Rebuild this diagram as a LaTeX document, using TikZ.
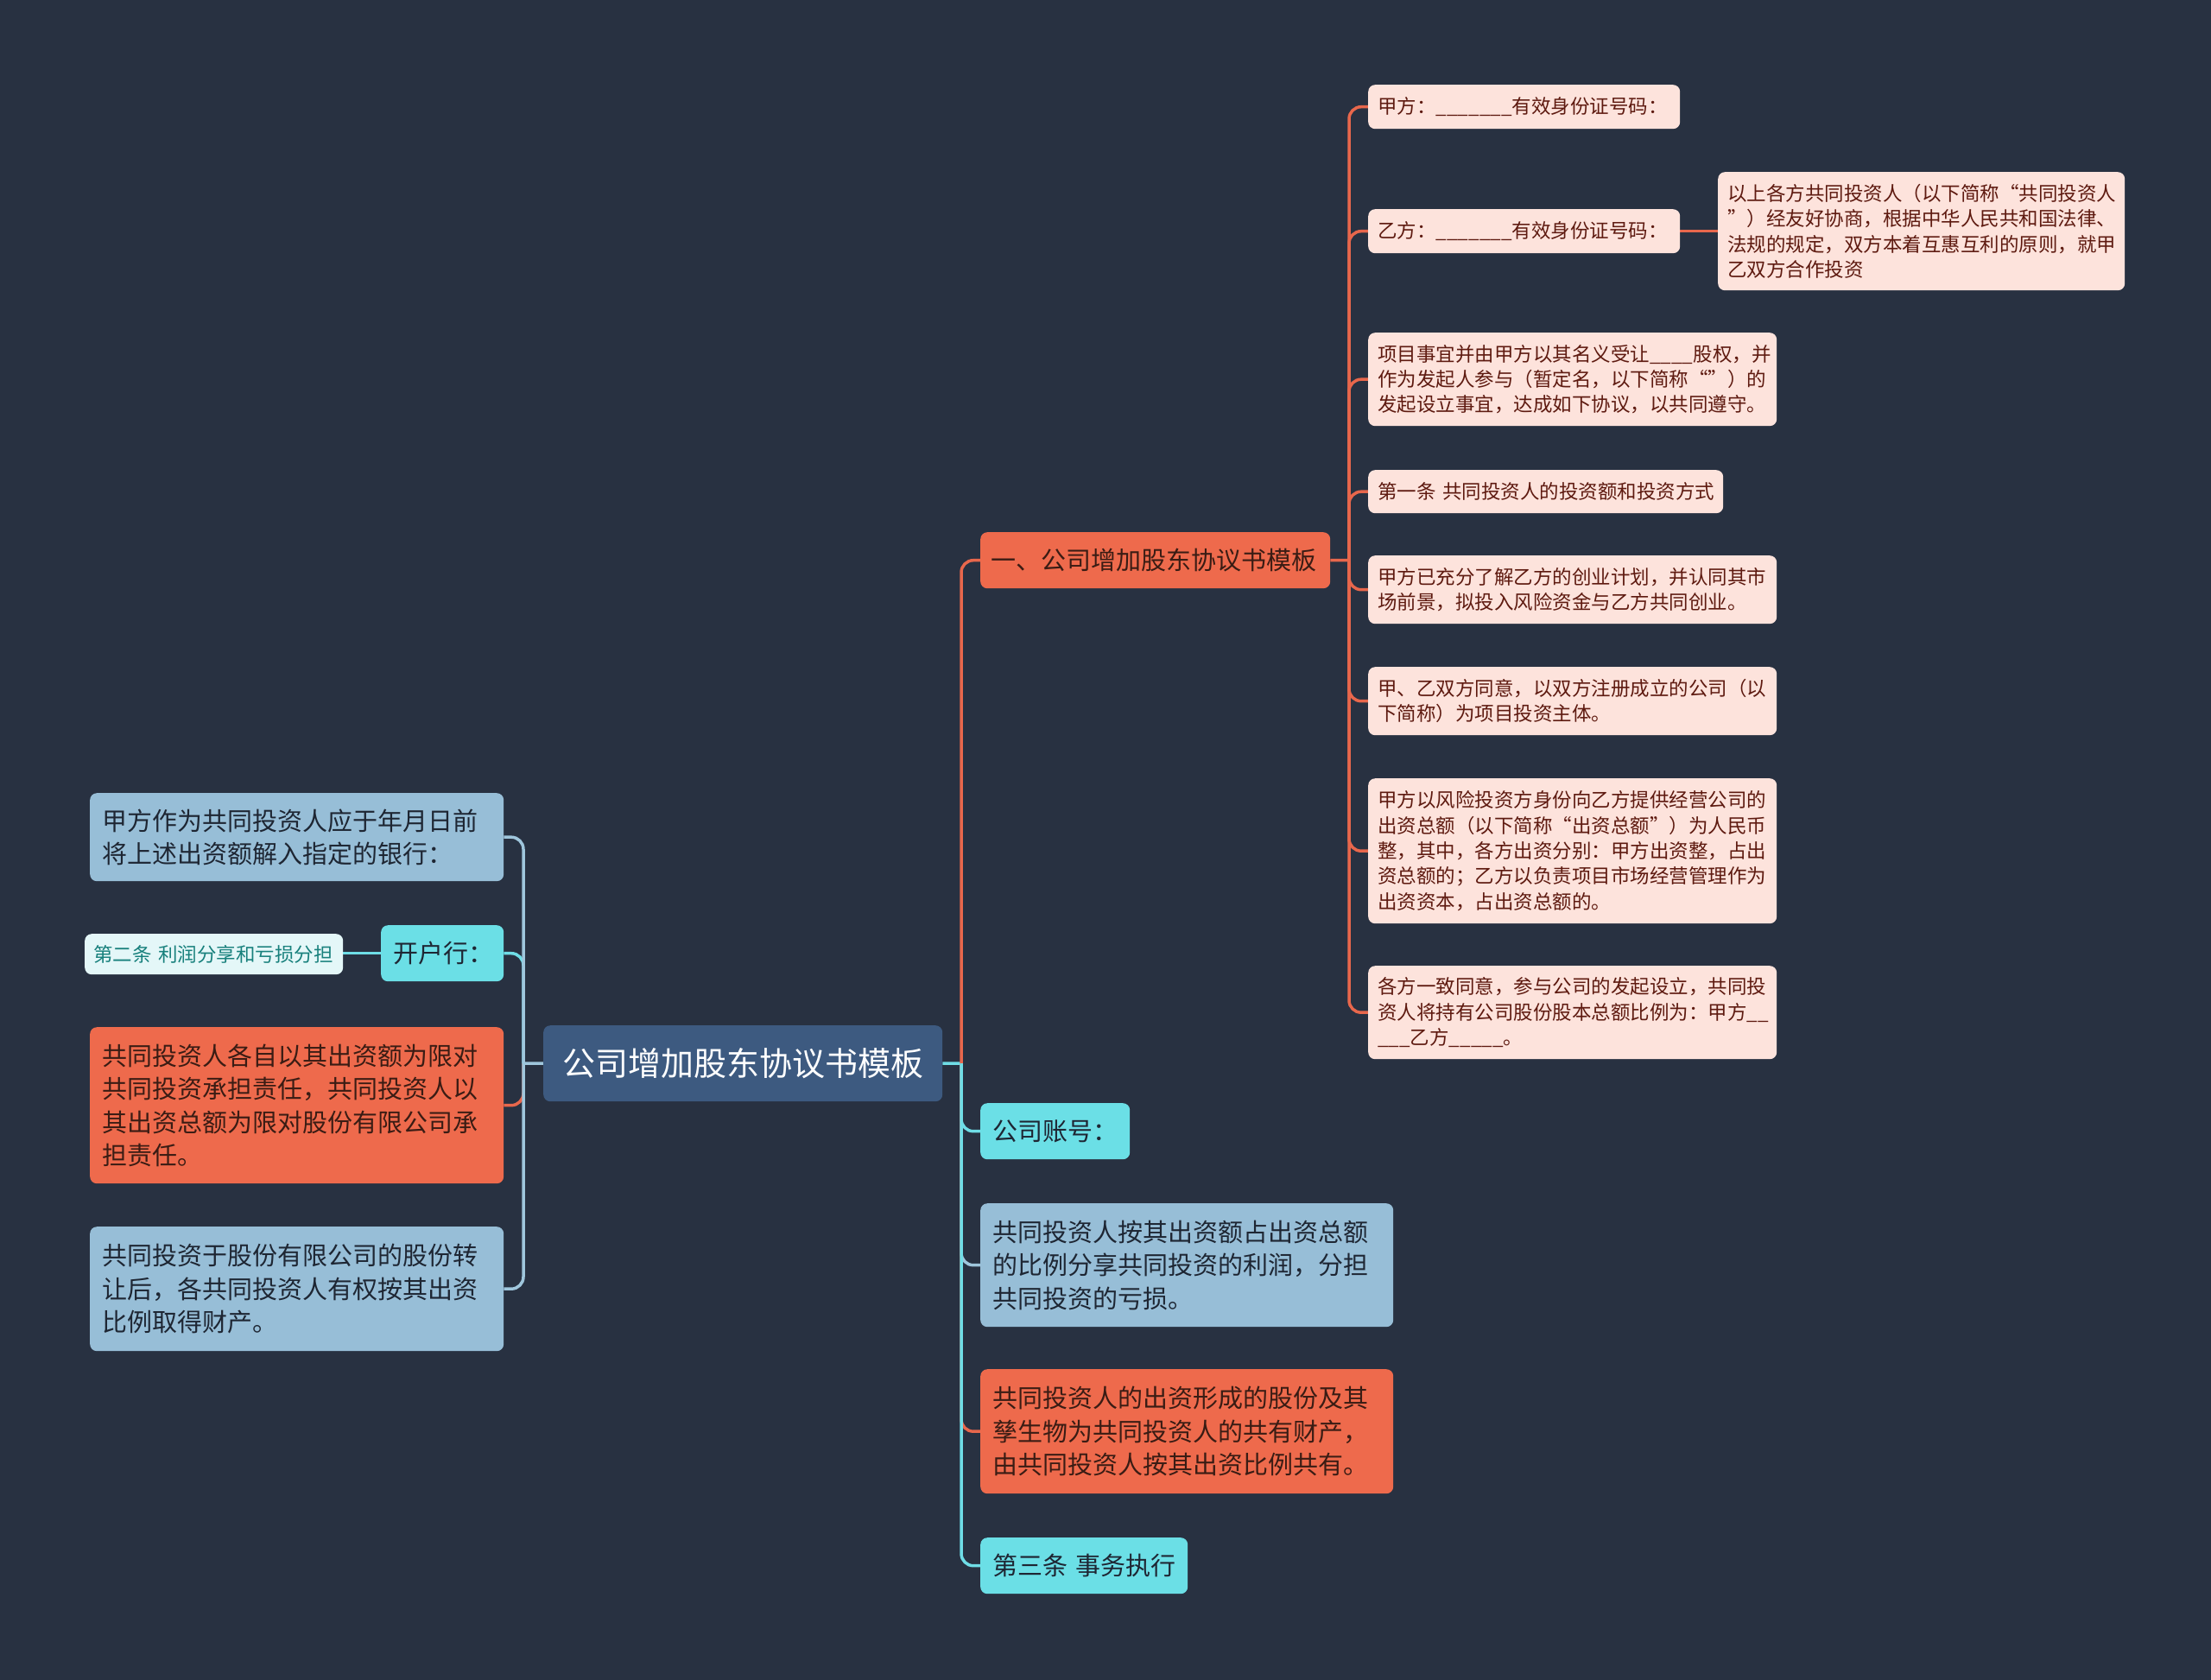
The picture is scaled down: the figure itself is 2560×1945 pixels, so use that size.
\documentclass[tikz,border=0pt]{standalone}
\usepackage{fontspec}
\setmainfont{Noto Sans CJK SC}
\definecolor{bgc}{HTML}{283141}
\definecolor{rootc}{HTML}{3D5A80}
\definecolor{orangec}{HTML}{EE6A4C}
\definecolor{pinkc}{HTML}{FDE3DC}
\definecolor{pinktext}{HTML}{5E1A10}
\definecolor{bluec}{HTML}{97BED7}
\definecolor{cyanc}{HTML}{6BDFE6}
\definecolor{whitec}{HTML}{E4F7F8}
\definecolor{tealtext}{HTML}{17807C}
\definecolor{darktext}{HTML}{1E2633}
\definecolor{orangetext}{HTML}{3A1C14}
\definecolor{lineO}{HTML}{E8674C}
\definecolor{lineC}{HTML}{6FDDE6}
\definecolor{lineB}{HTML}{9FC6DC}
\pgfdeclarelayer{back}
\pgfdeclarelayer{edges}
\pgfsetlayers{back,edges,main}
\tikzset{
  box/.style={rounded corners=8, inner ysep=0, anchor=north west, align=left},
  rootbox/.style={box, fill=rootc, text=white, align=center, inner xsep=13,
    font=\fontsize{38}{46}\selectfont},
  pinkbox/.style={box, fill=pinkc, text=pinktext, inner xsep=11,
    font=\fontsize{22.5}{29.4}\selectfont},
  orangebox/.style={box, fill=orangec, text=orangetext, inner xsep=14,
    font=\fontsize{29}{38.4}\selectfont},
  bluebox/.style={box, fill=bluec, text=darktext, inner xsep=14,
    font=\fontsize{29}{38.4}\selectfont},
  cyanbox/.style={box, fill=cyanc, text=darktext, inner xsep=14,
    font=\fontsize{29}{38.4}\selectfont},
  whitebox/.style={box, fill=whitec, text=tealtext, inner xsep=10,
    font=\fontsize{22.5}{29.4}\selectfont},
  edgeO/.style={draw=lineO, line width=3.5},
  edgeC/.style={draw=lineC, line width=3.5},
  edgeB/.style={draw=lineB, line width=3.5},
}
\begin{document}
\begin{tikzpicture}[x=1pt,y=-1pt]
\begin{pgfonlayer}{back}
\fill[bgc] (0,0) rectangle (2560,1945);
\end{pgfonlayer}
\useasboundingbox (0,0) rectangle (2560,1945);

% root
\node[rootbox, text width=436, minimum height=88] (root) at (629,1187) {公司增加股东协议书模板};

% branch one
\node[orangebox, text width=381, inner xsep=12, minimum height=65] (b1) at (1135,616) {一、公司增加股东协议书模板};

% pink children
\node[pinkbox, text width=339, minimum height=51] (p1) at (1584,98) {甲方：\_\_\_\_\_\_\_有效身份证号码：};
\node[pinkbox, text width=339, minimum height=51] (p2) at (1584,242) {乙方：\_\_\_\_\_\_\_有效身份证号码：};
\node[pinkbox, text width=449, minimum height=137] (p2a) at (1989,199) {以上各方共同投资人（以下简称“共同投资人\\”）经友好协商，根据中华人民共和国法律、\\法规的规定，双方本着互惠互利的原则，就甲\\乙双方合作投资};
\node[pinkbox, text width=451, minimum height=108] (p3) at (1584,385) {项目事宜并由甲方以其名义受让\_\_\_\_股权，并\\作为发起人参与（暂定名，以下简称“”）的\\发起设立事宜，达成如下协议，以共同遵守。};
\node[pinkbox, text width=389, minimum height=50] (p4) at (1584,544) {第一条~共同投资人的投资额和投资方式};
\node[pinkbox, text width=451, minimum height=79] (p5) at (1584,643) {甲方已充分了解乙方的创业计划，并认同其市\\场前景，拟投入风险资金与乙方共同创业。};
\node[pinkbox, text width=451, minimum height=79] (p6) at (1584,772) {甲、乙双方同意，以双方注册成立的公司（以\\下简称）为项目投资主体。};
\node[pinkbox, text width=451, minimum height=168] (p7) at (1584,901) {甲方以风险投资方身份向乙方提供经营公司的\\出资总额（以下简称“出资总额”）为人民币\\整，其中，各方出资分别：甲方出资整，占出\\资总额的；乙方以负责项目市场经营管理作为\\出资资本，占出资总额的。};
\node[pinkbox, text width=451, minimum height=108] (p8) at (1584,1118) {各方一致同意，参与公司的发起设立，共同投\\资人将持有公司股份股本总额比例为：甲方\_\_\\\_\_\_乙方\_\_\_\_\_。};

% right lower children
\node[cyanbox, text width=145, minimum height=65] (r2) at (1135,1277) {公司账号：};
\node[bluebox, text width=450, minimum height=143] (r3) at (1135,1393) {共同投资人按其出资额占出资总额\\的比例分享共同投资的利润，分担\\共同投资的亏损。};
\node[orangebox, text width=450, minimum height=144] (r4) at (1135,1585) {共同投资人的出资形成的股份及其\\孳生物为共同投资人的共有财产，\\由共同投资人按其出资比例共有。};
\node[cyanbox, text width=212, minimum height=65] (r5) at (1135,1780) {第三条~事务执行};

% left children
\node[bluebox, text width=451, minimum height=102] (l1) at (104,918) {甲方作为共同投资人应于年月日前\\将上述出资额解入指定的银行：};
\node[cyanbox, text width=114, minimum height=65] (l2) at (441,1071) {开户行：};
\node[whitebox, text width=279, minimum height=47] (l2a) at (98,1081) {第二条~利润分享和亏损分担};
\node[orangebox, text width=451, minimum height=181] (l3) at (104,1189) {共同投资人各自以其出资额为限对\\共同投资承担责任，共同投资人以\\其出资总额为限对股份有限公司承\\担责任。};
\node[bluebox, text width=451, minimum height=144] (l4) at (104,1420) {共同投资于股份有限公司的股份转\\让后，各共同投资人有权按其出资\\比例取得财产。};

\begin{pgfonlayer}{edges}
% right side of root
\coordinate (rJ) at (1113,1231);
\draw[edgeC] (root.east) -- (rJ);
\draw[edgeO, rounded corners=14] (rJ) |- (b1.west);
\draw[edgeC, rounded corners=14] (rJ) |- (r2.west);
\draw[edgeB, rounded corners=14] (rJ) |- (r3.west);
\draw[edgeO, rounded corners=14] (rJ) |- (r4.west);
\draw[edgeC, rounded corners=14] (rJ) |- (r5.west);
% branch one children
\coordinate (bJ) at (1562,648.5);
\draw[edgeO] (b1.east) -- (bJ);
\foreach \n in {p1,p2,p3,p4,p5,p6,p7,p8}
  \draw[edgeO, rounded corners=14] (bJ) |- (\n.west);
\draw[edgeO] (p2.east) -- (p2.east -| p2a.west);
% left side of root
\coordinate (lJ) at (606,1231);
\draw[edgeB] (root.west) -- (lJ);
\draw[edgeO, rounded corners=14] (lJ) |- (l3.east);
\draw[edgeB, rounded corners=14] (lJ) |- (l4.east);
\draw[edgeC, rounded corners=14] (lJ) |- (l2.east);
\draw[edgeB, rounded corners=14] (lJ) |- (l1.east);
\draw[edgeC] (l2.west) -- (l2.west -| l2a.east);
\end{pgfonlayer}
\end{tikzpicture}
\end{document}
